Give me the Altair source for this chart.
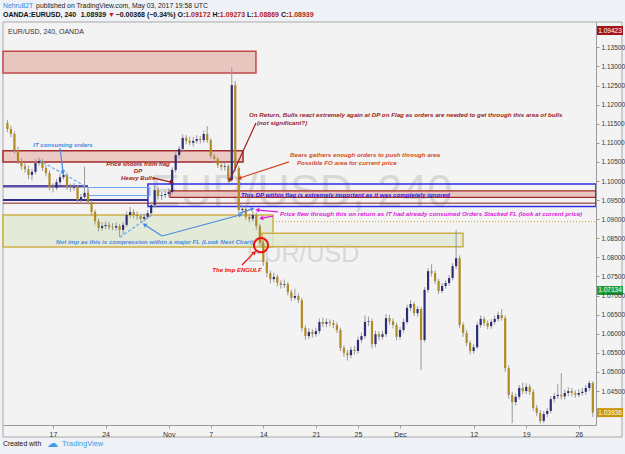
import math
import altair as alt
import pandas as pd

# ---------------- data ----------------
bar_open = [1.1152,1.1136,1.1123,1.1081,1.1052,1.1039,1.1031,1.1016,1.1024,1.1047,
 1.1052,1.1034,1.1021,1.0984,1.0982,1.0997,1.1010,1.1016,1.0984,1.0982,
 1.0984,1.0950,1.0958,1.0969,1.0945,1.0919,1.0895,1.0877,1.0882,1.0885,
 1.0880,1.0878,1.0882,1.0872,1.0885,1.0911,1.0919,1.0911,1.0908,1.0901,
 1.0906,1.0916,1.0937,1.0976,1.0961,1.0963,1.0966,1.0971,1.1029,1.1068,
 1.1084,1.1113,1.1105,1.1100,1.1105,1.1110,1.1107,1.1123,1.1107,1.1065,
 1.1058,1.1042,1.1037,1.1039,1.1003,1.1251,1.1034,1.0924,1.0927,1.0906,
 1.0901,1.0911,1.0882,1.0838,1.0788,1.0759,1.0743,1.0749,1.0733,1.0728,
 1.0730,1.0709,1.0694,1.0699,1.0688,1.0615,1.0594,1.0605,1.0599,1.0607,
 1.0631,1.0626,1.0631,1.0628,1.0623,1.0610,1.0563,1.0550,1.0544,1.0558,
 1.0555,1.0584,1.0594,1.0631,1.0633,1.0573,1.0599,1.0592,1.0599,1.0641,
 1.0633,1.0623,1.0592,1.0610,1.0631,1.0668,1.0678,1.0654,1.0665,1.0584,
 1.0715,1.0764,1.0759,1.0738,1.0712,1.0725,1.0733,1.0746,1.0777,1.0798,
 1.0623,1.0602,1.0576,1.0555,1.0565,1.0623,1.0639,1.0628,1.0620,1.0631,
 1.0639,1.0649,1.0641,1.0510,1.0440,1.0421,1.0435,1.0458,1.0450,1.0461,
 1.0448,1.0406,1.0393,1.0372,1.0390,1.0398,1.0429,1.0437,1.0440,1.0436,
 1.0445,1.0450,1.0445,1.0440,1.0445,1.0448,1.0458,1.0471]
bar_close = [1.1136,1.1123,1.1081,1.1052,1.1039,1.1031,1.1016,1.1024,1.1047,1.1052,
 1.1034,1.1021,1.0984,1.0982,1.0997,1.1010,1.1016,1.0984,1.0982,1.0984,
 1.0950,1.0958,1.0969,1.0945,1.0919,1.0895,1.0877,1.0882,1.0885,1.0880,
 1.0878,1.0882,1.0872,1.0885,1.0911,1.0919,1.0911,1.0908,1.0901,1.0906,
 1.0916,1.0937,1.0976,1.0961,1.0963,1.0966,1.0971,1.1029,1.1068,1.1084,
 1.1113,1.1105,1.1100,1.1105,1.1110,1.1107,1.1123,1.1107,1.1065,1.1058,
 1.1042,1.1037,1.1039,1.1003,1.1251,1.1034,1.0924,1.0927,1.0906,1.0901,
 1.0911,1.0882,1.0838,1.0788,1.0759,1.0743,1.0749,1.0733,1.0728,1.0730,
 1.0709,1.0694,1.0699,1.0688,1.0615,1.0594,1.0605,1.0599,1.0607,1.0631,
 1.0626,1.0631,1.0628,1.0623,1.0610,1.0563,1.0550,1.0544,1.0558,1.0555,
 1.0584,1.0594,1.0631,1.0633,1.0573,1.0599,1.0592,1.0599,1.0641,1.0633,
 1.0623,1.0592,1.0610,1.0631,1.0668,1.0678,1.0654,1.0665,1.0584,1.0715,
 1.0764,1.0759,1.0738,1.0712,1.0725,1.0733,1.0746,1.0777,1.0798,1.0623,
 1.0602,1.0576,1.0555,1.0565,1.0623,1.0639,1.0628,1.0620,1.0631,1.0639,
 1.0649,1.0641,1.0510,1.0440,1.0421,1.0435,1.0458,1.0450,1.0461,1.0448,
 1.0406,1.0393,1.0372,1.0390,1.0398,1.0429,1.0437,1.0440,1.0436,1.0445,
 1.0450,1.0445,1.0440,1.0445,1.0448,1.0458,1.0471,1.0394]
bar_high = [1.1160,1.1145,1.1130,1.1090,1.1060,1.1048,1.1040,1.1032,1.1058,1.1062,
 1.1058,1.1042,1.1028,1.0994,1.1005,1.1018,1.1030,1.1022,1.0993,1.0995,
 1.0990,1.0966,1.1037,1.0978,1.0950,1.0925,1.0902,1.0892,1.0894,1.0893,
 1.0890,1.0892,1.0888,1.0893,1.0920,1.0932,1.0926,1.0920,1.0914,1.0915,
 1.0924,1.0945,1.0990,1.0984,1.0972,1.0975,1.0980,1.1036,1.1075,1.1092,
 1.1122,1.1120,1.1116,1.1115,1.1120,1.1118,1.1132,1.1144,1.1112,1.1072,
 1.1064,1.1050,1.1048,1.1044,1.1298,1.1262,1.1040,1.0938,1.0933,1.0914,
 1.0920,1.0918,1.0888,1.0845,1.0795,1.0766,1.0760,1.0756,1.0740,1.0742,
 1.0736,1.0715,1.0718,1.0706,1.0694,1.0622,1.0615,1.0612,1.0616,1.0640,
 1.0642,1.0640,1.0638,1.0636,1.0630,1.0616,1.0570,1.0558,1.0566,1.0568,
 1.0592,1.0603,1.0648,1.0645,1.0640,1.0608,1.0606,1.0608,1.0652,1.0650,
 1.0640,1.0630,1.0618,1.0640,1.0676,1.0688,1.0684,1.0672,1.0670,1.0722,
 1.0772,1.0782,1.0766,1.0744,1.0733,1.0740,1.0754,1.0785,1.0872,1.0805,
 1.0630,1.0610,1.0582,1.0574,1.0630,1.0648,1.0645,1.0635,1.0638,1.0648,
 1.0658,1.0665,1.0648,1.0518,1.0448,1.0444,1.0466,1.0472,1.0470,1.0468,
 1.0455,1.0414,1.0400,1.0398,1.0406,1.0437,1.0445,1.0468,1.0497,1.0454,
 1.0460,1.0458,1.0452,1.0455,1.0458,1.0466,1.0478,1.0476]
bar_low = [1.1128,1.1115,1.1072,1.1045,1.1030,1.1022,1.1005,1.1002,1.1018,1.1040,
 1.1026,1.1012,1.0975,1.0970,1.0976,1.0990,1.1004,1.0976,1.0972,1.0974,
 1.0942,1.0944,1.0952,1.0938,1.0910,1.0886,1.0868,1.0870,1.0874,1.0872,
 1.0871,1.0870,1.0853,1.0860,1.0880,1.0904,1.0902,1.0898,1.0892,1.0894,
 1.0900,1.0910,1.0930,1.0952,1.0950,1.0955,1.0958,1.0965,1.1022,1.1060,
 1.1078,1.1096,1.1094,1.1090,1.1098,1.1098,1.1100,1.1100,1.1058,1.1050,
 1.1034,1.1028,1.1027,1.0995,1.0998,1.1025,1.0915,1.0914,1.0898,1.0892,
 1.0894,1.0872,1.0828,1.0778,1.0748,1.0732,1.0735,1.0724,1.0718,1.0720,
 1.0700,1.0686,1.0688,1.0680,1.0606,1.0584,1.0586,1.0590,1.0592,1.0600,
 1.0618,1.0617,1.0619,1.0615,1.0602,1.0555,1.0540,1.0530,1.0536,1.0545,
 1.0548,1.0576,1.0588,1.0620,1.0562,1.0565,1.0583,1.0585,1.0592,1.0624,
 1.0614,1.0583,1.0585,1.0603,1.0625,1.0660,1.0646,1.0645,1.0505,1.0578,
 1.0708,1.0750,1.0730,1.0704,1.0706,1.0718,1.0726,1.0740,1.0770,1.0615,
 1.0592,1.0568,1.0546,1.0548,1.0560,1.0616,1.0620,1.0612,1.0613,1.0624,
 1.0632,1.0634,1.0500,1.0430,1.0366,1.0412,1.0428,1.0442,1.0442,1.0440,
 1.0398,1.0384,1.0365,1.0366,1.0382,1.0392,1.0420,1.0430,1.0428,1.0428,
 1.0436,1.0436,1.0432,1.0434,1.0438,1.0440,1.0450,1.0382]
first_bar_day = -4.3333   # trading-day index of the first bar (Mon Oct 17 = 0)
bars_per_day = 3

day_ticks = [0, 5, 11, 15, 20, 25, 29, 33, 40, 45, 50]
day_labels = ["17", "24", "Nov", "7", "14", "21", "25", "Dec", "12", "19", "26"]
price_ticks = [1.045, 1.050, 1.055, 1.060, 1.065, 1.070, 1.075, 1.080, 1.085,
               1.090, 1.095, 1.100, 1.105, 1.110, 1.115, 1.120, 1.125, 1.130, 1.135]

# zones (rectangles)
zone_d1 = [-4.755, -4.755, 11.13, 9.03, 3.33, -4.755, 19.87]
zone_d2 = [19.30, 18.07, 51.63, 51.63, 9.22, 20.92, 38.99]
zone_lo = [1.1283, 1.1050, 1.0957, 1.0933, 1.0962, 1.0827, 1.0828]
zone_hi = [1.1340, 1.1079, 1.0974, 1.0992, 1.0983, 1.0911, 1.0863]
zone_fill = ["#e8c5bf", "#ebc4be", "#e9c1bb", "#ffffff", "#ffffff", "#dfe9d2", "#dfe9d2"]
zone_fop = [1.0, 0.9, 0.9, 0.0, 0.0, 0.85, 0.85]
zone_stroke = ["#c24a48", "#a32a2a", "#a32a2a", "#2f2fe6", "#6aa8f0", "#cfae48", "#cfae48"]
zone_sw = [1.5, 1.5, 1.2, 1.5, 1.0, 1.5, 1.5]

# horizontal lines
hline_p = [1.0986, 1.0950, 1.0942]
hline_d1 = [-4.755, -4.755, -4.755]
hline_d2 = [3.33, 9.03, 51.63]
hline_color = ["#5c4fa8", "#2d2d8f", "#8b1a1a"]
hline_w = [2.5, 2.0, 1.0]
last_price = 1.08939
last_price_from = 20.92

# trend lines / arrows
tl_d1 = [-1.33, 6.37, 10.37, 10.37, 0.67, 17.78, 9.51, 19.30, 22.44, 21.40, 20.92, 17.97]
tl_p1 = [1.1055, 1.0853, 1.0856, 1.0856, 1.1086, 1.0916, 1.1008, 1.1152, 1.1050, 1.0919, 1.0908, 1.0780]
tl_d2 = [3.33, 9.41, 8.75, 17.78, 0.95, 18.92, 11.22, 16.83, 17.78, 19.49, 19.87, 19.11]
tl_p2 = [1.0982, 1.0911, 1.0885, 1.0911, 1.1024, 1.0927, 1.0997, 1.1003, 1.1008, 1.0924, 1.0903, 1.0812]
tl_color = ["#6aa8f0", "#6aa8f0", "#4a8ae0", "#4a8ae0", "#4a8ae0", "#4a8ae0",
            "#9b1c1c", "#9b1c1c", "#d2491f", "#e020e0", "#e020e0", "#ee1111"]
tl_dashed = [True, True, False, False, False, False, False, False, False, False, False, False]

# annotation texts
note_text = ["On Return, Bulls react extremely again at DP on Flag as orders are needed to get through this area of bulls",
             "(not significant?)",
             "Bears gathers enough orders to push through area",
             "Possible FO area for current price",
             "This DP within flag is extremely important as it was completely ignored",
             "Price flew through this on return as IT had already consumed Orders Stacked FL (look at current price)",
             "Not imp as this is compression within a major FL (Look Next Chart)"]
note_d = [18.64, 19.40, 22.54, 23.20, 17.88, 21.59, 0.29]
note_p = [1.1174, 1.1152, 1.1067, 1.1048, 1.0964, 1.0914, 1.0840]
note_color = ["#9b1c1c", "#9b1c1c", "#d2491f", "#d2491f", "#1a1ae6", "#e020e0", "#4a8ae0"]

cnote_text = ["IT consuming orders", "Price shoots from flag", "DP", "Heavy Bulls", "The Imp ENGULF"]
cnote_d = [0.95, 8.08, 8.08, 8.08, 17.50]
cnote_p = [1.1094, 1.1044, 1.1026, 1.1007, 1.0767]
cnote_color = ["#4a8ae0", "#9b1c1c", "#9b1c1c", "#9b1c1c", "#ee1111"]

circle_d = [19.78]
circle_p = [1.0832]

label_price = [1.07134, 1.03936]
label_color = ["#1f9e3a", "#c8960c"]

# ---------------- scales ----------------
D_MIN, D_MAX = -4.755, 51.636
P_MIN, P_MAX = 1.03612, 1.14163
W, H = 593, 403
XS = alt.Scale(domain=[D_MIN, D_MAX], nice=False, zero=False)
YS = alt.Scale(domain=[P_MIN, P_MAX], nice=False, zero=False)
FONT = "Liberation Sans"

label_expr = " : ".join(f"datum.value == {d} ? '{l}'" for d, l in zip(day_ticks, day_labels)) + " : ''"
AX = alt.Axis(values=day_ticks, labelExpr=label_expr, grid=False, title=None, orient="bottom", zindex=1,
              tickSize=3, labelFontSize=7, labelColor="#333333", labelFont=FONT,
              domainColor="#9a9a9a", tickColor="#9a9a9a", labelPadding=2, labelFlush=False)
AY = alt.Axis(orient="right", values=price_ticks, format=".5f", grid=False, title=None, zindex=1,
              tickSize=3, labelFontSize=6.5, labelColor="#333333", labelFont=FONT,
              domainColor="#9a9a9a", tickColor="#9a9a9a", labelPadding=2, labelFlush=False)


def X(field):
    return alt.X(field, type="quantitative", scale=XS, axis=AX)


def Y(field):
    return alt.Y(field, type="quantitative", scale=YS, axis=AY)


bars = pd.DataFrame({"open": bar_open, "high": bar_high, "low": bar_low, "close": bar_close})
bars["d"] = [first_bar_day + i / bars_per_day for i in range(len(bars))]

wicks = alt.Chart(bars).mark_rule(color="#9a9a9a", strokeWidth=1).encode(
    x=X("d"), y=Y("low"), y2="high:Q")
bodies = alt.Chart(bars).transform_calculate(
    dir="datum.close >= datum.open ? 'up' : 'down'"
).mark_rule(strokeWidth=2.2, strokeCap="butt").encode(
    x=X("d"), y=Y("open"), y2="close:Q",
    color=alt.Color("dir:N", scale=alt.Scale(domain=["up", "down"], range=["#2c2d78", "#b08a22"]), legend=None),
)

zones = pd.DataFrame({"d1": zone_d1, "d2": zone_d2, "lo": zone_lo, "hi": zone_hi, "fill": zone_fill,
                      "fo": zone_fop, "stroke": zone_stroke, "sw": zone_sw})
zone_layer = alt.Chart(zones).mark_rect().encode(
    x=X("d1"), x2="d2:Q", y=Y("lo"), y2="hi:Q",
    fill=alt.Fill("fill:N", scale=None), fillOpacity=alt.FillOpacity("fo:Q", scale=None),
    stroke=alt.Stroke("stroke:N", scale=None), strokeWidth=alt.StrokeWidth("sw:Q", scale=None),
)

hl = pd.DataFrame({"p": hline_p, "d1": hline_d1, "d2": hline_d2, "c": hline_color, "w": hline_w})
hline_layer = alt.Chart(hl).mark_rule().encode(
    x=X("d1"), x2="d2:Q", y=Y("p"),
    color=alt.Color("c:N", scale=None), strokeWidth=alt.StrokeWidth("w:Q", scale=None),
)
lp = pd.DataFrame({"p": [last_price], "d1": [last_price_from], "d2": [D_MAX]})
lastprice_layer = alt.Chart(lp).mark_rule(color="#d0b050", strokeWidth=1.3, strokeDash=[1, 2]).encode(
    x=X("d1"), x2="d2:Q", y=Y("p"))

px_day = W / (D_MAX - D_MIN)
px_unit = H / (P_MAX - P_MIN)
tl = pd.DataFrame({"d1": tl_d1, "p1": tl_p1, "d2": tl_d2, "p2": tl_p2, "c": tl_color, "dash": tl_dashed})
tl["ang"] = [math.degrees(math.atan2((b - a) * px_day, (q - p) * px_unit)) % 360
             for a, p, b, q in zip(tl_d1, tl_p1, tl_d2, tl_p2)]
solid = tl[~tl["dash"]]
dashed = tl[tl["dash"]]
solid_layer = alt.Chart(solid).mark_rule(strokeWidth=1.2).encode(
    x=X("d1"), x2="d2:Q", y=Y("p1"), y2="p2:Q", color=alt.Color("c:N", scale=None))
dashed_layer = alt.Chart(dashed).mark_rule(strokeWidth=1.2, strokeDash=[3, 2]).encode(
    x=X("d1"), x2="d2:Q", y=Y("p1"), y2="p2:Q", color=alt.Color("c:N", scale=None))
head_layer = alt.Chart(solid).mark_point(shape="triangle", filled=True, size=22, opacity=1).encode(
    x=X("d2"), y=Y("p2"), angle=alt.Angle("ang:Q", scale=None), color=alt.Color("c:N", scale=None))

circ = pd.DataFrame({"d": circle_d, "p": circle_p})
circle_layer = alt.Chart(circ).mark_point(shape="circle", filled=False, size=200, strokeWidth=2,
                                          color="#ee1111", opacity=1).encode(x=X("d"), y=Y("p"))

notes = pd.DataFrame({"t": note_text, "d": note_d, "p": note_p, "c": note_color})
note_layer = alt.Chart(notes).mark_text(align="left", baseline="middle", font=FONT, fontSize=6.2,
                                        fontWeight="bold", fontStyle="italic").encode(
    x=X("d"), y=Y("p"), text="t:N", color=alt.Color("c:N", scale=None))
cnotes = pd.DataFrame({"t": cnote_text, "d": cnote_d, "p": cnote_p, "c": cnote_color})
cnote_layer = alt.Chart(cnotes).mark_text(align="center", baseline="middle", font=FONT, fontSize=6.0,
                                          fontWeight="bold", fontStyle="italic").encode(
    x=X("d"), y=Y("p"), text="t:N", color=alt.Color("c:N", scale=None))

labels = pd.DataFrame({"p": label_price, "c": label_color})
labels["txt"] = [f"{v:.5f}" for v in label_price]
label_box = alt.Chart(labels).transform_calculate(
    top="datum.p + 0.00118", bot="datum.p - 0.00118"
).mark_rect().encode(
    x=alt.value(594), x2=alt.value(620), y=Y("top"), y2="bot:Q", color=alt.Color("c:N", scale=None))
label_txt = alt.Chart(labels).mark_text(align="center", baseline="middle", font=FONT, fontSize=6.5,
                                        color="white").encode(x=alt.value(607), y=Y("p"), text="txt:N")

one = pd.DataFrame({"k": [0]})


def txt(s, x, y, size=7, color="#222222", weight="normal", align="left", font=FONT):
    return alt.Chart(one).mark_text(align=align, baseline="middle", fontSize=size, font=font,
                                    fontWeight=weight, color=color).encode(
        x=alt.value(x), y=alt.value(y), text=alt.value(s))


def box(x1, x2, y1, y2, fill, stroke=None, sw=0):
    kw = {"fill": fill}
    if stroke:
        kw.update(stroke=stroke, strokeWidth=sw)
    return alt.Chart(one).mark_rect(**kw).encode(x=alt.value(x1), x2=alt.value(x2),
                                                  y=alt.value(y1), y2=alt.value(y2))


# rough Arial em widths for laying out the header segments
def em_width(s, bold):
    w = 0.0
    for ch in s:
        if ch.isdigit():
            w += 0.556
        elif ch in ".,":
            w += 0.278
        elif ch == " ":
            w += 0.278
        elif ch == ":":
            w += 0.333
        elif ch in "()":
            w += 0.333
        elif ch == "%":
            w += 0.889
        elif ch in "−-":
            w += 0.584
        elif ch == "▼":
            w += 0.8
        elif ch.isupper():
            w += 0.778 if ch in "OQ" else (0.611 if ch in "LTF" else 0.722)
        else:
            w += (0.278 if ch in "il" else 0.39 if ch in "rtf" else 0.611) if bold else \
                 (0.222 if ch in "il" else 0.333 if ch in "rtf" else 0.556)
    return w


pane = box(0, 619, 0, 415, "#f3f3f3", "#a8a8a8", 1)
watermark1 = txt("EUR/USD, 240", 298, 170, size=45, color="#d8d8d8", align="center")
watermark2 = txt("EUR/USD", 300, 232, size=25, color="#d8d8d8", align="center")

header = []
s_user = "Nehru82T"
header.append(txt(s_user, 0, -16, size=6.8, color="#2a8ee6"))
header.append(txt("published on TradingView.com, May 03, 2017 19:58 UTC", em_width(s_user + " ", False) * 6.8 + 1,
                  -16, size=6.8, color="#222222"))
segs = [("OANDA:EURUSD, 240", "#111111"), ("  ", None), ("1.08939", "#111111"), (" ", None),
        ("▼", "#c0141a"), (" ", None), ("−0.00368 (−0.34%)", "#111111"), (" ", None),
        ("O:", "#111111"), ("1.09172", "#b22222"), (" ", None), ("H:", "#111111"), ("1.09273", "#b22222"),
        (" ", None), ("L:", "#111111"), ("1.08869", "#b22222"), (" ", None), ("C:", "#111111"),
        ("1.08939", "#b22222")]
xpos = 0.0
for s, c in segs:
    if c:
        header.append(txt(s, xpos, -7, size=7, color=c, weight="bold"))
    xpos += em_width(s, True) * 7

legend_txt = txt("EUR/USD, 240, OANDA", 5, 10, size=7, color="#333333")
top_box = box(594, 620, 4, 13, "#a31515")
top_txt = txt("1.09423", 607, 8.5, size=6.5, color="white", align="center")
footer = [txt("Created with", 0, 422, size=6.8, color="#111111"),
          txt("☁", 44, 422, size=11, color="#3d9be9", font="DejaVu Sans"),
          txt("TradingView", 59, 422, size=7.5, color="#3d9be9")]

chart = alt.layer(
    pane, watermark1, watermark2,
    zone_layer, hline_layer, lastprice_layer,
    wicks, bodies,
    dashed_layer, solid_layer, head_layer, circle_layer,
    note_layer, cnote_layer,
    label_box, label_txt, top_box, top_txt, legend_txt,
    *header, *footer,
).properties(
    width=W, height=H,
    padding={"left": 3, "top": 22, "right": 29, "bottom": 29},
    autosize=alt.AutoSizeParams(type="none"),
    background="#eef1f5",
).configure_view(stroke=None)

chart.save("out.html", embed_options={"renderer": "svg", "actions": False})
